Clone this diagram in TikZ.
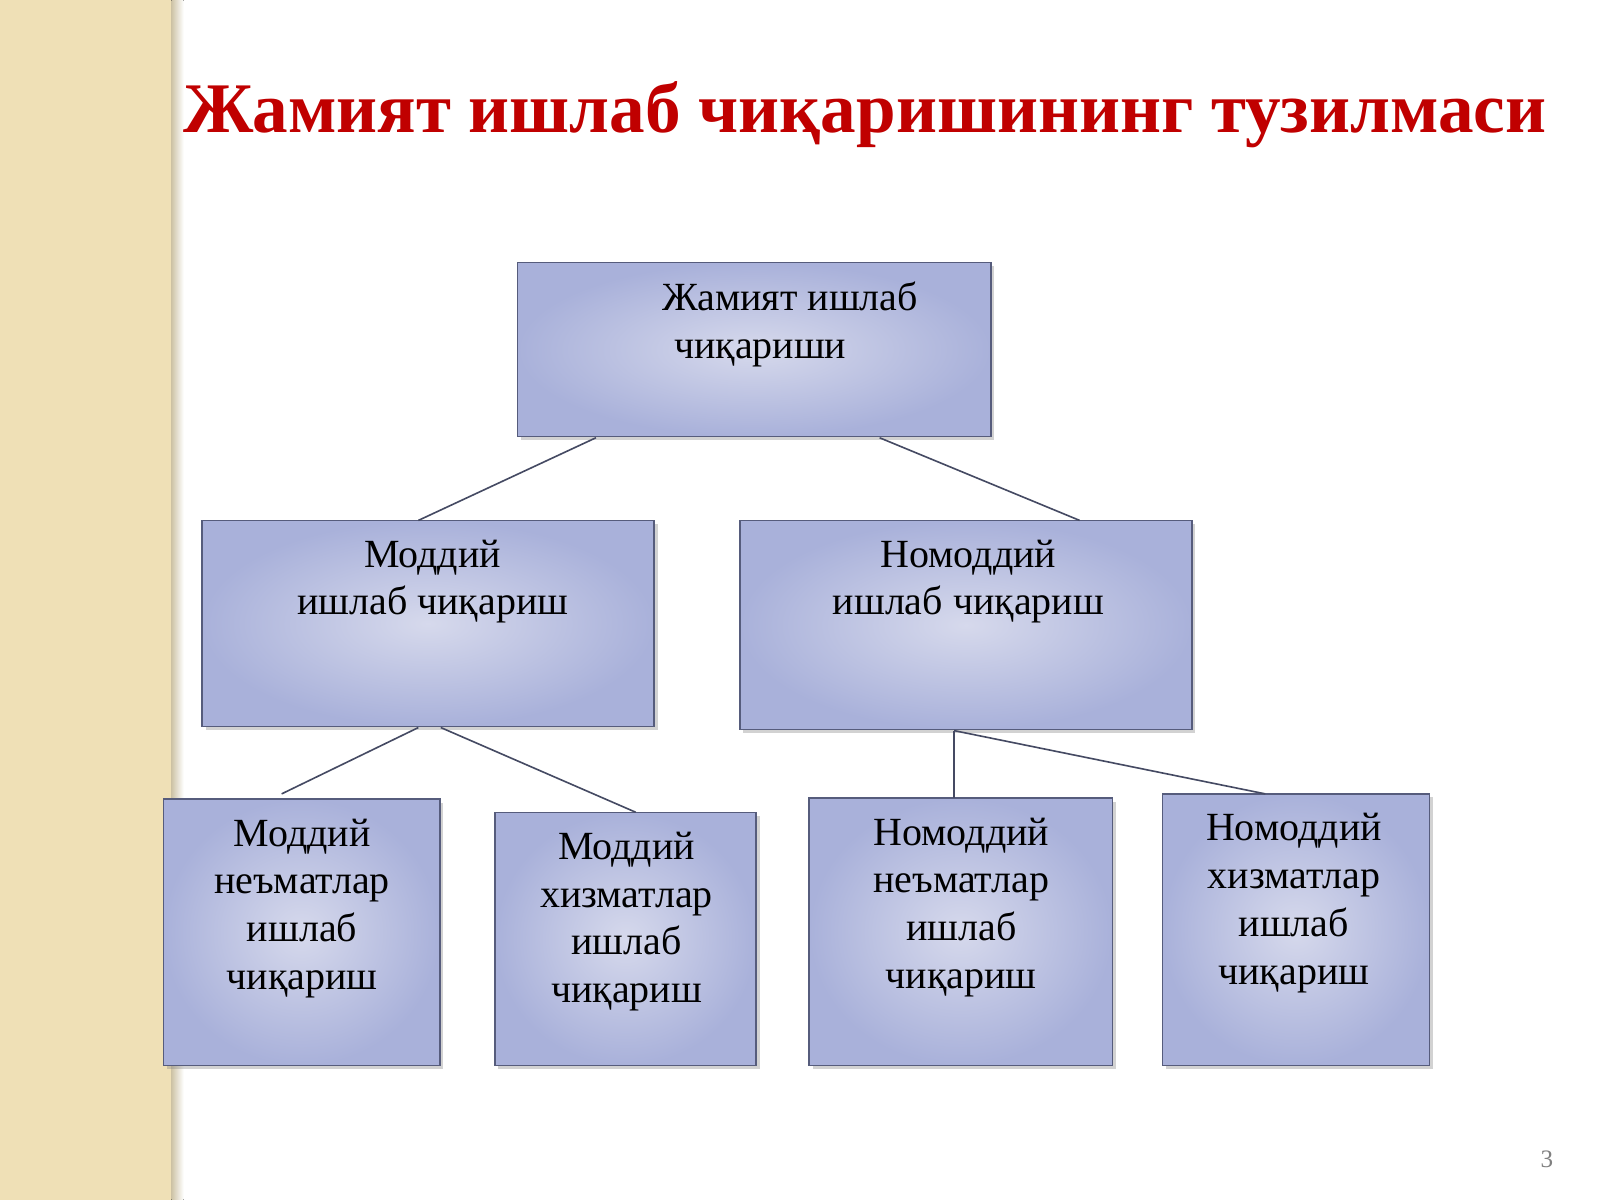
\documentclass[tikz,border=0pt]{standalone}
\usepackage{fontspec}
\setmainfont{Liberation Serif}
\usetikzlibrary{fit,shadows}
\definecolor{beige}{HTML}{EFE0B6}
\definecolor{boxout}{HTML}{A9B1DA}
\definecolor{boxin}{HTML}{D6D9EC}
\definecolor{boxline}{HTML}{565C7C}
\definecolor{titlered}{HTML}{C00000}
\tikzset{
 box/.style={draw=boxline, line width=0.8pt, inner color=boxin, outer color=boxout, inner sep=0pt,
   drop shadow={shadow xshift=2pt, shadow yshift=-2pt, opacity=0.35}},
 lbl/.style={align=center, font=\fontsize{22.3}{26.6}\selectfont, text=black, inner sep=0pt},
 con/.style={draw=boxline!80!black, line width=0.9pt}
}
\begin{document}
\begin{tikzpicture}[x=0.02cm,y=-0.02cm]
\useasboundingbox (0,0) rectangle (1568,1176);
\fill[white] (0,0) rectangle (1568,1176);
\fill[beige] (0,0) rectangle (168,1176);
\fill[left color=beige!70!gray, right color=white] (168,0) rectangle (180,1176);
\node[font=\bfseries\fontsize{39.7}{46}\selectfont, text=titlered, inner sep=0] (title) at (848,112) {Жамият ишлаб чиқаришининг тузилмаси};
\node[box, fit={(507,257)(971,428)}] (top) {};
\node[box, fit={(198,510)(641,712)}] (m) {};
\node[box, fit={(725,510)(1168,715)}] (n) {};
\node[box, fit={(160,783)(431,1044)}] (b1) {};
\node[box, fit={(485,796)(741,1044)}] (b2) {};
\node[box, fit={(793,782)(1090,1044)}] (b3) {};
\node[box, fit={(1139,778)(1401,1044)}] (b4) {};
\node[lbl] (ttop) at (745,318) {\hspace*{1.5em}Жамият ишлаб\\чиқариши};
\node[lbl] (tm) at (424,570) {Моддий\\ишлаб чиқариш};
\node[lbl] (tn) at (949,570) {Номоддий\\ишлаб чиқариш};
\node[lbl] (tb1) at (296,890) {Моддий\\неъматлар\\ишлаб\\чиқариш};
\node[lbl] (tb2) at (614,903) {Моддий\\хизматлар\\ишлаб\\чиқариш};
\node[lbl] (tb3) at (942,889) {Номоддий\\неъматлар\\ишлаб\\чиқариш};
\node[lbl] (tb4) at (1268,885) {Номоддий\\хизматлар\\ишлаб\\чиқариш};
\node[text=gray, font=\fontsize{14}{16}\selectfont] (pg) at (1516,1136) {3};
\coordinate (t1) at (584,429); \coordinate (t2) at (862,429);
\coordinate (m1) at (410,510); \coordinate (n1) at (1058,510);
\coordinate (mb1) at (410,713); \coordinate (mb2) at (432,713);
\coordinate (b1t) at (276,778); \coordinate (b2t) at (623,796);
\coordinate (nb) at (935,716);
\coordinate (b3t) at (935,782); \coordinate (b4t) at (1240,778);
\draw[con] (t1) -- (m1);
\draw[con] (t2) -- (n1);
\draw[con] (mb1) -- (b1t);
\draw[con] (mb2) -- (b2t);
\draw[con] (nb) -- (b3t);
\draw[con] (nb) -- (b4t);
\end{tikzpicture}
\end{document}
